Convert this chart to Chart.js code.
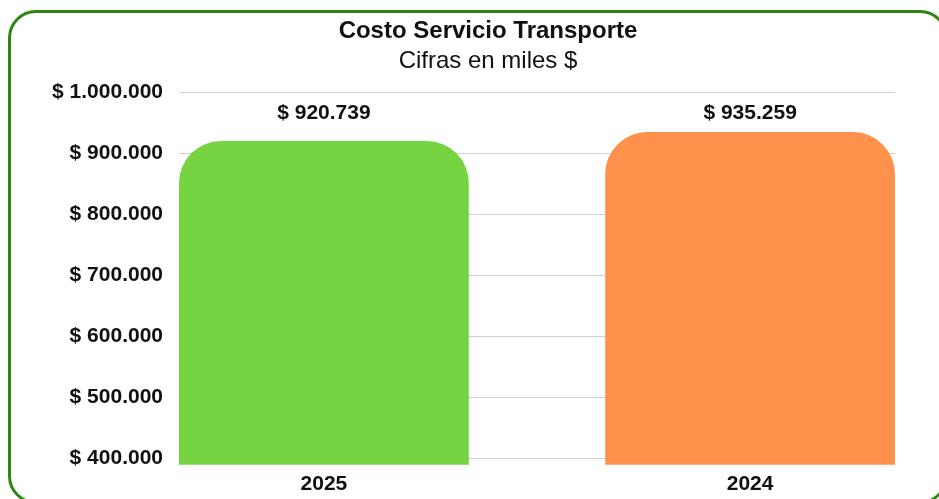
<!DOCTYPE html>
<html>
<head>
<meta charset="utf-8">
<script src="https://cdn.jsdelivr.net/npm/chart.js@4.4.1/dist/chart.umd.min.js"></script>
<style>
    html, body { margin: 0; padding: 0; background: #fff; overflow: hidden; width: 939px; height: 499px; }
    .frame {
        position: absolute; left: 8px; top: 10px; width: 940px; height: 494px;
        box-sizing: border-box; border: 3px solid #2e8512; border-radius: 28px;
    }
    .wrap { position: absolute; left: 11px; top: 13px; width: 954px; height: 491px; }
</style>
</head>
<body>
<div class="frame"></div>
<div class="wrap"><canvas id="costChart"></canvas></div>
<script>
const years = ["2025", "2024"];
const costs = [920739, 935259];
const barColors = ["#76d442", "#ff914d"];
const tickValues = [400000, 500000, 600000, 700000, 800000, 900000, 1000000];

const FONT = "'Liberation Sans', Arial, sans-serif";

function money(v) {
    return "$ " + Math.round(v).toString().replace(/\B(?=(\d{3})+(?!\d))/g, ".");
}

// value labels sit on one line above both bars
const topLabels = {
    id: "topLabels",
    afterDatasetsDraw(chart) {
        const ctx = chart.ctx;
        const meta = chart.getDatasetMeta(0);
        ctx.save();
        ctx.font = "bold 21px " + FONT;
        ctx.fillStyle = "#111";
        ctx.textAlign = "center";
        ctx.textBaseline = "middle";
        meta.data.forEach((bar, i) => {
            ctx.fillText(money(costs[i]), bar.x, chart.chartArea.top + 21);
        });
        ctx.restore();
    }
};

// bars sit flush with the plot edges, so x is a numeric axis with a bit of room
const xPad = 0.34;

new Chart(document.getElementById("costChart"), {
    type: "bar",
    data: {
        datasets: [{
            data: costs.map((c, i) => ({ x: i, y: c })),
            backgroundColor: barColors,
            borderRadius: { topLeft: 42, topRight: 42, bottomLeft: 0, bottomRight: 0 },
            barPercentage: 0.68,
            categoryPercentage: 1
        }]
    },
    options: {
        responsive: true,
        maintainAspectRatio: false,
        animation: false,
        layout: { padding: 0 },
        plugins: {
            legend: { display: false },
            tooltip: { enabled: false },
            title: {
                display: true,
                text: "Costo Servicio Transporte",
                color: "#111",
                font: { family: FONT, size: 24, weight: "bold", lineHeight: 1.2 },
                padding: { top: 4, bottom: 0 }
            },
            subtitle: {
                display: true,
                text: "Cifras en miles $",
                color: "#111",
                font: { family: FONT, size: 24, weight: "normal", lineHeight: 1.2 },
                padding: { top: 1, bottom: 17 }
            }
        },
        scales: {
            x: {
                type: "linear",
                offset: false,
                min: -xPad,
                max: years.length - 1 + xPad,
                grid: { display: false, drawTicks: false },
                border: { display: false },
                afterBuildTicks(scale) {
                    scale.ticks = years.map((y, i) => ({ value: i }));
                },
                ticks: {
                    color: "#111",
                    padding: 7,
                    font: { family: FONT, size: 21, weight: "bold", lineHeight: 1.2 },
                    callback: v => years[v]
                }
            },
            y: {
                min: 390000,
                max: 1000000,
                grid: { color: "#d0d0d0", drawTicks: false },
                border: { display: false },
                afterBuildTicks(scale) {
                    scale.ticks = tickValues.map(v => ({ value: v }));
                },
                afterFit(scale) {
                    scale.width = 168;
                },
                ticks: {
                    color: "#111",
                    padding: 16,
                    font: { family: FONT, size: 21, weight: "bold", lineHeight: 1.2 },
                    callback: v => money(v)
                }
            },
            // empty right-hand spacer so the titles centre on the whole frame
            yRight: {
                position: "right",
                grid: { display: false, drawTicks: false },
                border: { display: false },
                ticks: { display: false },
                afterFit(scale) {
                    scale.width = 70;
                }
            }
        }
    },
    plugins: [topLabels]
});
</script>
</body>
</html>
